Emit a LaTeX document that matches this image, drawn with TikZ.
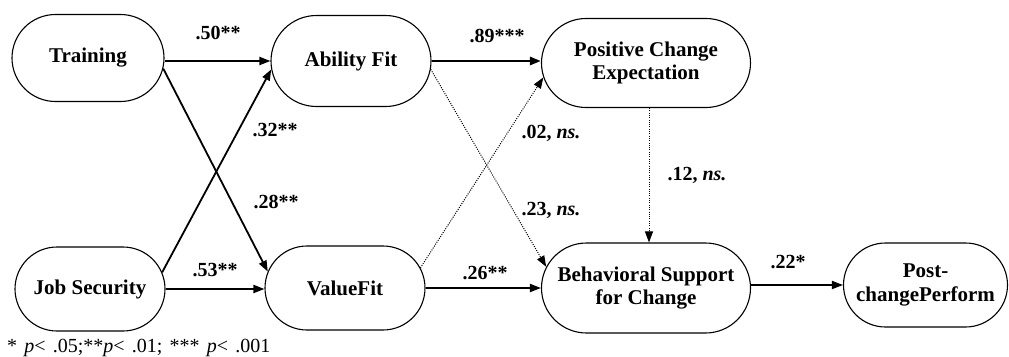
\documentclass[tikz,border=0pt]{standalone}
\usepackage{fontspec}
\setmainfont{Liberation Serif}
\usetikzlibrary{arrows.meta,shapes.misc}
\begin{document}
\begin{tikzpicture}[x=1pt,y=-1pt,
  box/.style={rounded rectangle, draw, line width=1.1pt, align=center, inner sep=0pt,
    font=\fontsize{21}{23.3}\selectfont\bfseries},
  path/.style={line width=1.8pt, -{Triangle[length=11pt,width=8pt]}},
  bold path/.style={line width=2.8pt, -{Triangle[length=11pt,width=8pt]}},
  ns path/.style={line width=1pt, dash pattern=on 1pt off 1.3pt, -{Triangle[length=11pt,width=8pt]}},
  lbl/.style={font=\fontsize{20}{22}\selectfont\bfseries, inner sep=0pt}
]
\useasboundingbox (0,0) rectangle (1009,356);
\node[box, minimum width=152pt, minimum height=87pt] (tr) at (88,58) {Training};
\node[box, minimum width=160pt, minimum height=91pt] (af) at (351,61) {Ability Fit};
\node[box, minimum width=209pt, minimum height=89pt] (pce) at (646,63) {Positive Change\\Expectation};
\node[box, minimum width=150pt, minimum height=84pt] (js) at (90,289) {Job Security};
\node[box, minimum width=160pt, minimum height=84pt] (vf) at (345,288) {ValueFit};
\node[box, minimum width=209pt, minimum height=90pt] (bs) at (646,288) {Behavioral Support\\for Change};
\node[box, minimum width=164pt, minimum height=84pt] (pp) at (925.5,285) {Post-\\changePerform};

\draw[path] (tr.east |- af.west) -- (af.west);
\draw[bold path] (af.east) -- (af.east -| pce.west);
\draw[path] (js.east) -- (js.east -| vf.west);
\draw[path] (vf.east) -- (vf.east -| bs.west);
\draw[path] (bs.east |- pp.west) -- (pp.west);
\draw[path] (tr.-8) -- (vf.168);
\draw[path] (js.13) -- (af.186);
\draw[ns path] (af.-6) -- (bs.168);
\draw[ns path] (vf.15) -- (pce.188);
\draw[ns path] ([xshift=3pt]pce.south) -- ([xshift=3pt]bs.north);

\node[lbl] (l50) at (218,33) {.50**};
\node[lbl] (l89) at (497,36) {.89***};
\node[lbl] (l32) at (275,130) {.32**};
\node[lbl] (l28) at (276,202) {.28**};
\node[lbl] (l53) at (215,270) {.53**};
\node[lbl] (l26) at (485,273) {.26**};
\node[lbl] (l02) at (551,133) {.02, \textit{ns.}};
\node[lbl] (l12) at (697,175) {.12, \textit{ns.}};
\node[lbl] (l23) at (551,210) {.23, \textit{ns.}};
\node[lbl] (l22) at (788,262) {.22*};
\node[anchor=base west, inner sep=0pt, font=\fontsize{20}{22}\selectfont] (note) at (7,352.5)
  {\spaceskip=7.2pt\relax * \textit{p}< .05;**\textit{p}< .01; *** \textit{p}< .001};
\end{tikzpicture}
\end{document}
